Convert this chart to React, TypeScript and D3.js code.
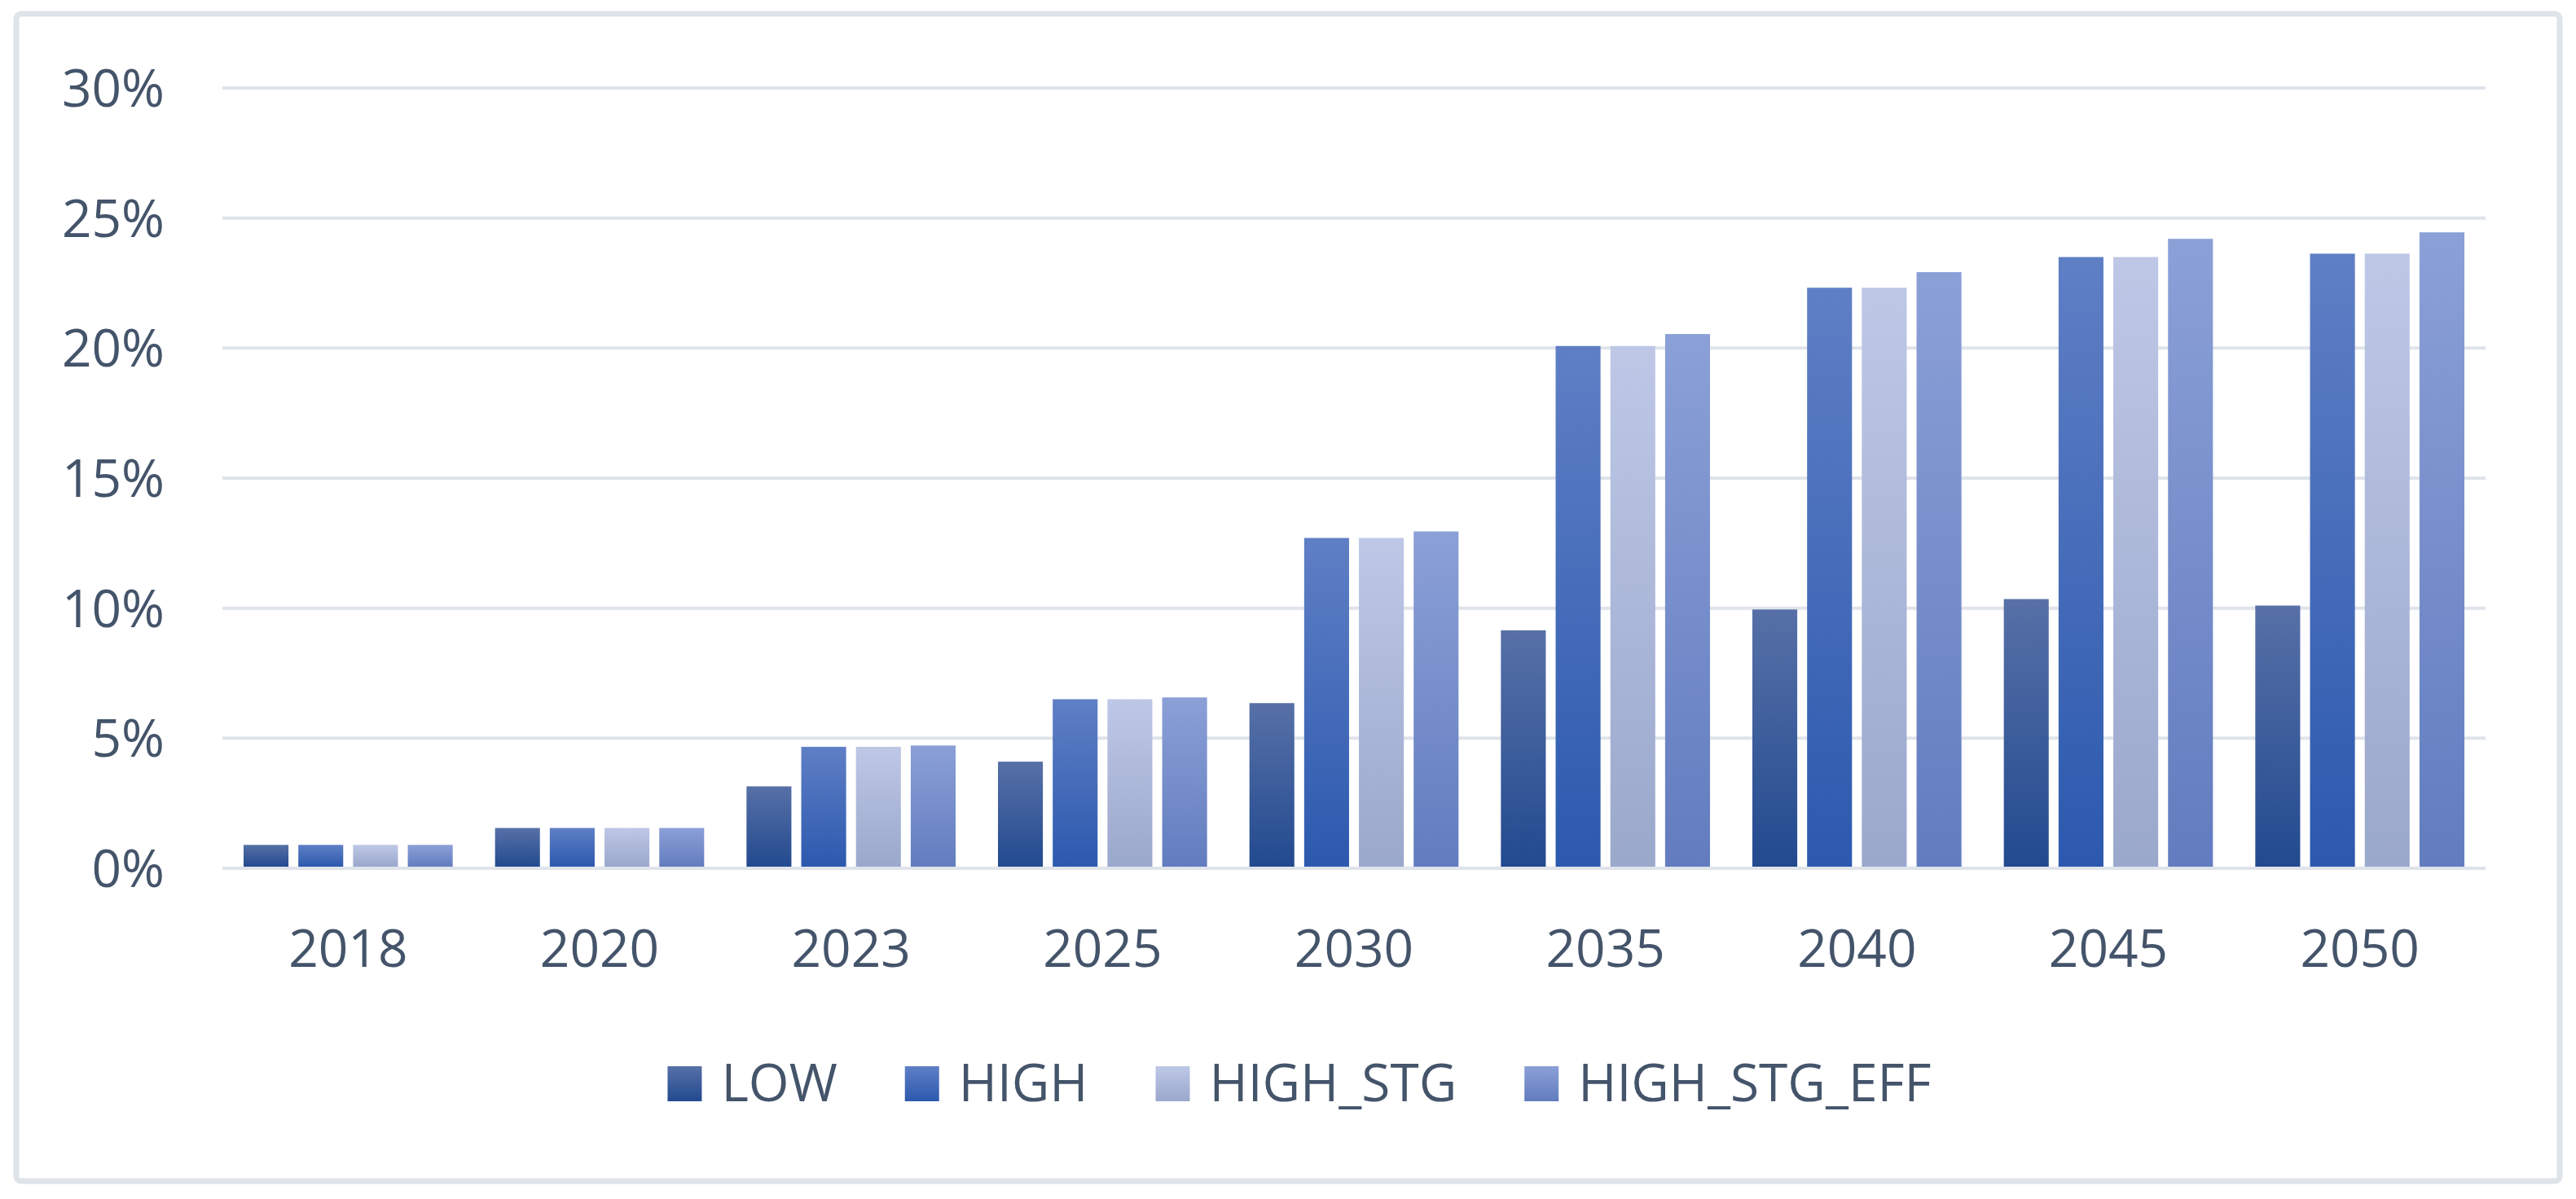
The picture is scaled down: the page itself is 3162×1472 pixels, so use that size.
import * as d3 from "d3";
import { useEffect, useRef } from "react";

const years = ["2018", "2020", "2023", "2025", "2030", "2035", "2040", "2045", "2050"];
const seriesNames = ["LOW", "HIGH", "HIGH_STG", "HIGH_STG_EFF"];
const low = [0.9, 1.55, 3.15, 4.1, 6.35, 9.15, 9.95, 10.35, 10.1];
const high = [0.9, 1.55, 4.67, 6.5, 12.7, 20.08, 22.32, 23.5, 23.63];
const highStg = [0.9, 1.55, 4.67, 6.5, 12.7, 20.08, 22.32, 23.5, 23.63];
const highStgEff = [0.9, 1.55, 4.72, 6.57, 12.95, 20.54, 22.92, 24.2, 24.45];
const yTicks = [0, 5, 10, 15, 20, 25, 30];

// top / bottom colours of each series gradient
const gradients = [
  ["#5770a7", "#224a8f"],
  ["#5f7fc5", "#2c59ae"],
  ["#bec7e6", "#9aa8cc"],
  ["#8ba0d7", "#627cbf"],
];

const W = 3162;
const H = 1472;
const textColor = "#44546a";
const gridColor = "#dfe3ea";
const font = "'Open Sans', sans-serif";

export default function App() {
  const svgRef = useRef(null);

  useEffect(() => {
    document.body.style.margin = "0";
    const svg = d3.select(svgRef.current).attr("width", W).attr("height", H);
    svg.selectAll("*").remove();

    const values = [low, high, highStg, highStgEff];
    const data = years.map((y, i) => ({
      year: y,
      vals: seriesNames.map((s, k) => ({ key: s, k, v: values[k][i] })),
    }));

    const defs = svg.append("defs");
    gradients.forEach((g, k) => {
      const lg = defs
        .append("linearGradient")
        .attr("id", `grad${k}`)
        .attr("x1", 0)
        .attr("y1", 0)
        .attr("x2", 0)
        .attr("y2", 1);
      lg.append("stop").attr("offset", "0%").attr("stop-color", g[0]);
      lg.append("stop").attr("offset", "100%").attr("stop-color", g[1]);
    });

    svg
      .append("rect")
      .attr("x", 20)
      .attr("y", 17)
      .attr("width", 3122)
      .attr("height", 1433)
      .attr("rx", 6)
      .attr("fill", "#fff")
      .attr("stroke", "#dfe3ea")
      .attr("stroke-width", 7);

    const left = 273;
    const right = 3051;
    const x0 = d3.scaleBand().domain(years).range([left, right]).padding(0);
    const groupPad = 26;
    const x1 = d3
      .scaleBand()
      .domain(seriesNames)
      .range([groupPad, x0.bandwidth() - groupPad])
      .paddingInner(0.18);
    const y = d3.scaleLinear().domain([0, 30]).range([1066, 108]);

    const grid = svg.append("g");
    grid
      .selectAll("line")
      .data(yTicks)
      .enter()
      .append("line")
      .attr("x1", left)
      .attr("x2", right)
      .attr("y1", (d) => y(d))
      .attr("y2", (d) => y(d))
      .attr("stroke", gridColor)
      .attr("stroke-width", 4);

    svg
      .append("g")
      .selectAll("text")
      .data(yTicks)
      .enter()
      .append("text")
      .attr("x", 202)
      .attr("y", (d) => y(d))
      .attr("dy", "0.36em")
      .attr("text-anchor", "end")
      .attr("font-family", font)
      .attr("font-size", 64)
      .attr("fill", textColor)
      .text((d) => `${d}%`);

    const groups = svg
      .append("g")
      .selectAll("g")
      .data(data)
      .enter()
      .append("g")
      .attr("transform", (d) => `translate(${x0(d.year)},0)`);

    groups
      .selectAll("rect")
      .data((d) => d.vals)
      .enter()
      .append("rect")
      .attr("x", (d) => x1(d.key) || 0)
      .attr("y", (d) => y(d.v))
      .attr("width", x1.bandwidth())
      .attr("height", (d) => y(0) - y(d.v) - 2)
      .attr("fill", (d) => `url(#grad${d.k})`);

    svg
      .append("g")
      .selectAll("text")
      .data(years)
      .enter()
      .append("text")
      .attr("x", (d) => (x0(d) || 0) + x0.bandwidth() / 2)
      .attr("y", 1187)
      .attr("text-anchor", "middle")
      .attr("font-family", font)
      .attr("font-size", 64)
      .attr("fill", textColor)
      .text((d) => d);

    // legend
    const legend = svg.append("g");
    const items = legend
      .selectAll("g")
      .data(seriesNames)
      .enter()
      .append("g");
    items
      .append("rect")
      .attr("width", 42)
      .attr("height", 43)
      .attr("y", 1309)
      .attr("fill", (d, k) => `url(#grad${k})`);
    items
      .append("text")
      .attr("y", 1352)
      .attr("font-family", font)
      .attr("font-size", 64)
      .attr("fill", textColor)
      .text((d) => d);
    let cx = 0;
    const widths: number[] = [];
    items.each(function () {
      const t = d3.select(this).select("text").node() as SVGTextElement;
      widths.push(t.getComputedTextLength());
    });
    const total = widths.reduce((a, w) => a + 42 + 24 + w, 0) + 83 * (widths.length - 1);
    const start = 1595 - total / 2;
    cx = start;
    items.each(function (d, k) {
      const g = d3.select(this);
      g.select("rect").attr("x", cx);
      g.select("text").attr("x", cx + 42 + 24);
      cx += 42 + 24 + widths[k] + 83;
    });
  }, []);

  return <svg ref={svgRef}></svg>;
}
